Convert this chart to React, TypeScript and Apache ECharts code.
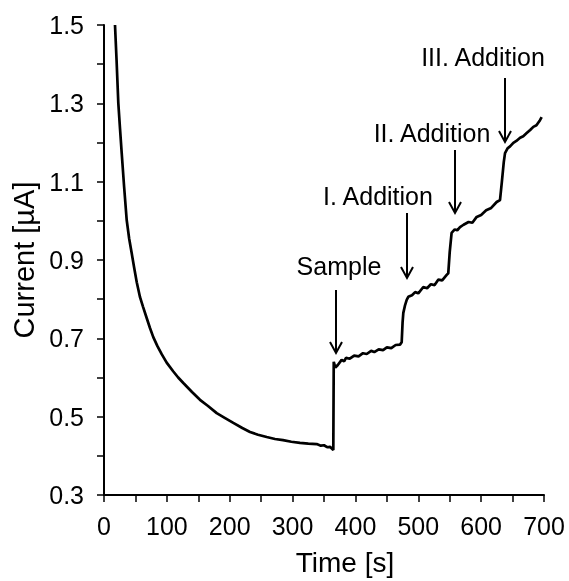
import React, { useEffect, useRef } from "react";
import * as echarts from "echarts";

const timeS = [
  17.5, 20, 22.8, 25.5, 28.2, 32, 36.1, 40, 44.1, 48, 52.1, 57.3, 62, 67.9, 73, 78.4, 85, 92, 99.7, 110, 118, 126.2,
  140, 152.7, 165, 179.3, 192, 205.7, 220, 232.3, 245, 258.8, 272, 284.8, 298, 311.8, 325, 338.4, 345, 350, 355, 359.5, 364.8,
  365.5, 368, 372, 378, 382, 385, 391, 398, 405, 412, 418, 425, 430, 437, 444, 450, 457, 464, 470.9,
  473.6, 475, 476.2, 479, 481.6, 484.1, 490, 495, 500, 508, 514, 520, 526, 532, 538, 545.2,
  547.7, 550, 553, 558, 562, 566.4, 572, 580, 586, 592.9, 600, 608, 616, 624.7, 630,
  633, 636, 638, 642, 646, 651.2, 656, 662, 667, 672.5, 678, 683, 688, 693.6, 696.3,
];
const currentUA = [
  1.5, 1.41, 1.3, 1.235, 1.172, 1.087, 1.002, 0.955, 0.917, 0.88, 0.843, 0.805, 0.781, 0.752, 0.727, 0.703, 0.68, 0.659, 0.638, 0.616, 0.6, 0.586,
  0.563, 0.543, 0.528, 0.509, 0.497, 0.484, 0.471, 0.461, 0.454, 0.448, 0.443, 0.44, 0.436, 0.433, 0.431, 0.43, 0.426, 0.427, 0.422, 0.423, 0.415,
  0.64, 0.625, 0.632, 0.645, 0.641, 0.65, 0.648, 0.656, 0.654, 0.662, 0.66, 0.668, 0.665, 0.672, 0.67, 0.677, 0.675, 0.683, 0.684,
  0.69, 0.74, 0.765, 0.785, 0.798, 0.806, 0.81, 0.818, 0.815, 0.831, 0.828, 0.838, 0.836, 0.85, 0.848, 0.862,
  0.866, 0.92, 0.969, 0.978, 0.976, 0.984, 0.99, 0.997, 0.995, 1.01, 1.015, 1.027, 1.033, 1.048, 1.053,
  1.1, 1.15, 1.173, 1.185, 1.19, 1.199, 1.204, 1.212, 1.216, 1.224, 1.232, 1.24, 1.244, 1.257, 1.265,
];

const annotationLabels = ["Sample", "I. Addition", "II. Addition", "III. Addition"];

const FONT = '"Liberation Sans", Arial, sans-serif';

export default function App() {
  const ref = useRef<HTMLDivElement>(null);
  useEffect(() => {
    if (!ref.current) return;
    const chart = echarts.init(ref.current, null, { renderer: "svg" });
    const data = timeS.map((t, i) => [t, currentUA[i]]);

    // annotation layout (pixel positions): text centre, arrow x, arrow top, arrow bottom
    const ann = [
      { tx: 339, ty: 266, ax: 336, y1: 290, y2: 353 },
      { tx: 378, ty: 196, ax: 407, y1: 213, y2: 278 },
      { tx: 432, ty: 133, ax: 455, y1: 150, y2: 213 },
      { tx: 483, ty: 57, ax: 505, y1: 78, y2: 142 },
    ];
    const graphic: any[] = [];
    ann.forEach((a, i) => {
      graphic.push({
        type: "text",
        style: {
          text: annotationLabels[i],
          x: a.tx,
          y: a.ty,
          align: "center",
          verticalAlign: "middle",
          fontSize: 25,
          fontFamily: FONT,
          fill: "#000",
        },
      });
      graphic.push({
        type: "line",
        shape: { x1: a.ax, y1: a.y1, x2: a.ax, y2: a.y2 },
        style: { stroke: "#000", lineWidth: 2 },
      });
      graphic.push({
        type: "polyline",
        shape: { points: [[a.ax - 6, a.y2 - 11], [a.ax, a.y2], [a.ax + 6, a.y2 - 11]] },
        style: { stroke: "#000", lineWidth: 2, fill: null },
      });
    });

    chart.setOption({
      animation: false,
      grid: { left: 104, right: 25, top: 25, bottom: 86 },
      xAxis: {
        type: "value",
        min: 0,
        max: 700,
        interval: 50,
        name: "Time [s]",
        nameLocation: "middle",
        nameGap: 53,
        nameTextStyle: { fontSize: 28, fontFamily: FONT, color: "#000", padding: [0, 0, 0, 42] },
        axisLine: { lineStyle: { color: "#000", width: 2 } },
        axisTick: { length: 7, lineStyle: { color: "#000", width: 1.5 } },
        axisLabel: {
          fontSize: 25,
          fontFamily: FONT,
          color: "#000",
          margin: 18,
          formatter: (v: number) => (Math.round(v) % 100 === 0 ? String(v) : ""),
        },
        splitLine: { show: false },
      },
      yAxis: {
        type: "value",
        min: 0.3,
        max: 1.5,
        interval: 0.1,
        name: "Current [µA]",
        nameLocation: "middle",
        nameGap: 60,
        nameTextStyle: { fontSize: 29, fontFamily: FONT, color: "#000" },
        axisLine: { show: true, lineStyle: { color: "#000", width: 2 } },
        axisTick: { show: true, length: 7, lineStyle: { color: "#000", width: 1.5 } },
        axisLabel: {
          fontSize: 25,
          fontFamily: FONT,
          color: "#000",
          margin: 20,
          formatter: (v: number) => (Math.round(v * 10) % 2 === 1 ? v.toFixed(1) : ""),
        },
        splitLine: { show: false },
      },
      series: [
        {
          type: "line",
          data,
          showSymbol: false,
          symbol: "none",
          lineStyle: { color: "#000", width: 2.7 },
          clip: true,
        },
      ],
      graphic,
    });
    return () => chart.dispose();
  }, []);
  return <div ref={ref} style={{ position: "fixed", left: 0, top: 0, width: 569, height: 581 }} />;
}
